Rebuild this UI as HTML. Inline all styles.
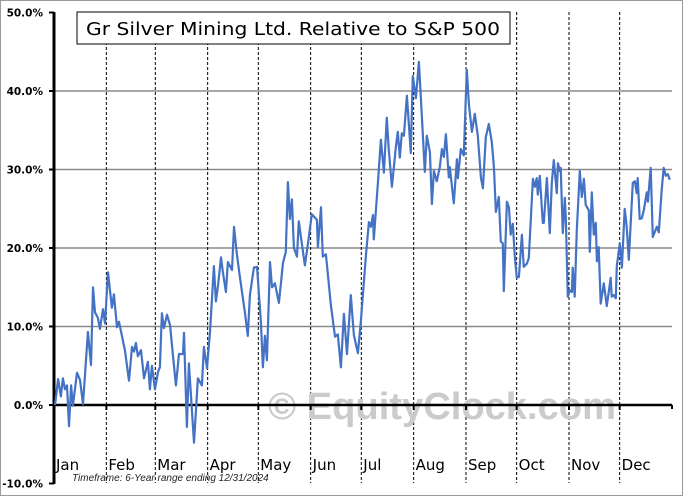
<!DOCTYPE html>
<html><head><meta charset="utf-8"><style>
html,body{margin:0;padding:0;background:#fff;}
svg{display:block;font-family:"DejaVu Sans","Liberation Sans",sans-serif;}
</style></head><body>
<svg id="chart" width="683" height="496" viewBox="0 0 683 496" xmlns="http://www.w3.org/2000/svg">
<rect x="0.5" y="0.5" width="682" height="495" fill="#fff" stroke="#9a9a9a"/>
<g id="grid"></g>
<text x="268" y="419" font-size="38" font-weight="bold" fill="#cbcbcb" textLength="348" lengthAdjust="spacingAndGlyphs" font-family="Liberation Sans, sans-serif">© EquityClock.com</text>
<g id="axes"></g>
<path id="line" fill="none" stroke="#4472c4" stroke-width="2.2" stroke-linejoin="round"/>
<rect x="77" y="12" width="433" height="32" fill="#fff" stroke="#000" stroke-width="1"/>
<text x="86" y="35" font-size="18" fill="#000" textLength="414" lengthAdjust="spacingAndGlyphs">Gr Silver Mining Ltd. Relative to S&amp;P 500</text>
<text x="72" y="481" font-size="10" font-style="italic" fill="#222" font-family="Liberation Sans, sans-serif">Timeframe: 6-Year range ending 12/31/2024</text>
</svg>
<script>
const yTicks=[50,40,30,20,10,0,-10];
const yTickLabels=["50.0%","40.0%","30.0%","20.0%","10.0%","0.0%","-10.0%"];
const months=["Jan","Feb","Mar","Apr","May","Jun","Jul","Aug","Sep","Oct","Nov","Dec"];
const monthStarts=[0,31,60,91,121,152,182,213,244,274,305,335];
const days=[0.6,2.4,4.1,5.3,6.5,7.7,8.9,10.1,11.2,13.6,15.4,17.2,20.1,21.9,23.1,24.3,26.0,27.2,29.0,30.2,32.0,34.3,35.5,37.3,38.5,42.0,44.4,46.2,47.4,48.5,49.7,51.5,53.3,55.6,56.8,58.0,59.8,61.6,62.7,63.9,65.1,66.9,68.7,72.2,74.0,76.4,77.0,78.7,79.9,82.9,85.2,87.6,88.8,90.6,92.4,94.7,95.9,97.1,98.9,100.0,101.8,103.0,105.4,106.6,108.3,110.1,113.1,114.8,116.0,118.4,120.2,122.5,123.7,124.9,
126.1,127.9,129.1,130.8,133.2,135.6,137.3,138.5,139.7,140.9,142.1,143.9,145.0,146.8,148.6,150.4,152.7,155.7,156.3,158.1,159.2,161.0,164.0,166.4,168.1,169.9,171.7,173.5,175.8,177.6,180.0,181.7,184.7,186.5,187.7,188.9,189.4,191.8,193.6,195.4,197.1,198.3,200.1,202.5,203.6,204.8,206.0,207.2,209.0,211.3,212.5,214.3,216.1,217.9,219.6,220.8,222.6,223.8,225.0,226.7,228.5,229.7,230.9,232.1,233.8,234.4,236.8,238.6,239.2,240.9,242.7,244.5,245.7,
247.5,249.2,251.0,252.8,254.0,255.7,257.5,259.3,260.5,261.7,263.4,264.6,265.8,266.4,268.2,269.4,270.5,271.7,272.9,274.1,275.3,277.1,278.2,280.0,281.2,283.6,284.8,285.9,286.5,287.7,289.5,290.1,291.9,293.6,294.8,296.0,297.8,298.4,299.6,300.1,301.3,302.5,303.1,304.3,305.5,306.7,307.2,308.4,309.6,311.4,312.6,313.8,314.9,316.7,317.3,318.5,319.7,320.9,321.5,322.6,323.8,325.6,327.4,329.7,330.3,331.5,332.7,333.3,335.1,336.3,338.0,339.2,340.4,342.8,344.0,345.1,345.7,346.9,348.1,349.3,351.1,351.7,353.4,354.6,357.0,358.2,359.9,361.1,362.3,363.5,364.7,365.9];
const values=[0,3.3,1.1,3.4,2.0,2.5,-2.7,2.5,-0.1,4.1,3.2,0.1,9.3,5.1,15.0,11.8,11.1,9.7,12.2,10.4,16.9,12.4,14.1,9.9,10.6,7.0,3.1,7.4,6.8,7.9,6.2,7.0,3.4,5.5,2.0,5.0,2.0,4.2,4.8,11.7,9.8,11.5,10.2,2.5,6.5,6.5,9.2,-2.8,5.3,-4.8,3.4,2.5,7.4,4.7,9.3,17.7,13.2,15.2,18.8,16.9,14.4,18.2,17.2,22.7,19.2,16.3,11.7,8.8,14.0,17.5,17.6,10.8,4.8,8.8,
5.7,18.2,15.0,15.5,13.0,18.1,19.5,28.4,23.7,26.2,20.0,18.9,23.4,20.5,17.8,20.6,24.3,23.6,20.1,25.2,18.9,19.2,12.7,8.7,9.0,4.8,11.6,6.5,14.0,8.9,6.6,10.6,19.0,23.3,22.7,24.2,21.1,28.3,33.8,29.6,36.6,32.5,27.8,32.9,34.8,31.5,34.6,34.3,39.4,32.1,41.9,39.1,43.7,36.7,29.7,34.3,32.2,25.6,29.8,28.5,30.3,32.6,31.6,34.5,29.0,30.3,25.7,31.3,28.9,32.6,31.8,42.7,38.3,
34.8,37.1,34.3,29.0,27.6,34.1,35.8,33.5,30.3,24.6,26.5,20.8,20.6,14.5,25.9,25.2,21.7,23.1,18.9,16.2,16.3,21.7,17.6,18.0,18.7,28.8,27.8,28.9,26.8,29.2,23.2,23.2,28.9,21.9,28.3,31.2,27.0,30.8,29.8,30.2,21.9,26.4,23.9,13.8,14.6,14.4,17.5,13.8,22.3,29.8,26.5,28.8,25.5,24.8,19.5,27.1,21.7,23.2,18.3,20.1,12.9,15.5,12.6,16.2,13.8,14.0,13.6,17.7,20.6,17.5,25.0,22.7,18.5,28.3,28.5,27.0,28.9,23.7,23.8,24.8,27.1,25.9,30.2,21.4,22.7,22.0,27.4,30.2,29.2,29.4,28.7];

const NS="http://www.w3.org/2000/svg";
const X0=54,X1=672,Y0=405,PPU=7.85;
const xs=d=>X0+d*(X1-X0)/366;
const ys=v=>Y0-v*PPU;
function mk(tag,attrs,parent){const e=document.createElementNS(NS,tag);for(const k in attrs)e.setAttribute(k,attrs[k]);parent.appendChild(e);return e;}
const grid=document.getElementById('grid'),axes=document.getElementById('axes');
yTicks.forEach((t,i)=>{
  if(t!==0&&t!==50&&t!==-10){
    const g=mk('line',{x1:X0,x2:X1,y1:ys(t),y2:ys(t),stroke:'#8a8a8a','stroke-width':1.5},grid);
    
    
  }
  const tk=mk('line',{x1:X0-5,x2:X0,y1:ys(t),y2:ys(t),stroke:'#000','stroke-width':2},axes);
  
  
  const lb=mk('text',{x:X0-11,y:ys(t)+4,'text-anchor':'end','font-size':10.5,'font-weight':'bold',fill:'#000'},axes);
  lb.textContent=yTickLabels[i];
  
  
});
months.forEach((m,i)=>{
  const x=xs(monthStarts[i]);
  if(i>0){
    const g=mk('line',{x1:x,x2:x,y1:12,y2:483,stroke:'#000','stroke-width':1,'stroke-dasharray':'3,2'},grid);
    
    
    const tk=mk('line',{x1:x,x2:x,y1:Y0,y2:Y0+5,stroke:'#000','stroke-width':2},axes);
    
    
  }
  const lb=mk('text',{x:x+2,y:470,'font-size':15,fill:'#000'},axes);
  lb.textContent=m;
  
  
});
const zl=mk('line',{x1:X0,x2:X1,y1:Y0,y2:Y0,stroke:'#000','stroke-width':2.5},axes);


const ze=mk('line',{x1:X1,x2:X1,y1:Y0,y2:Y0+4,stroke:'#000','stroke-width':2},axes);


const ya=mk('line',{x1:X0,x2:X0,y1:12,y2:484,stroke:'#000','stroke-width':3},axes);


let d='';
values.forEach((v,i)=>{d+=(i?'L':'M')+xs(days[i]).toFixed(1)+','+ys(v).toFixed(1);});
document.getElementById('line').setAttribute('d',d);
</script>
</body></html>
